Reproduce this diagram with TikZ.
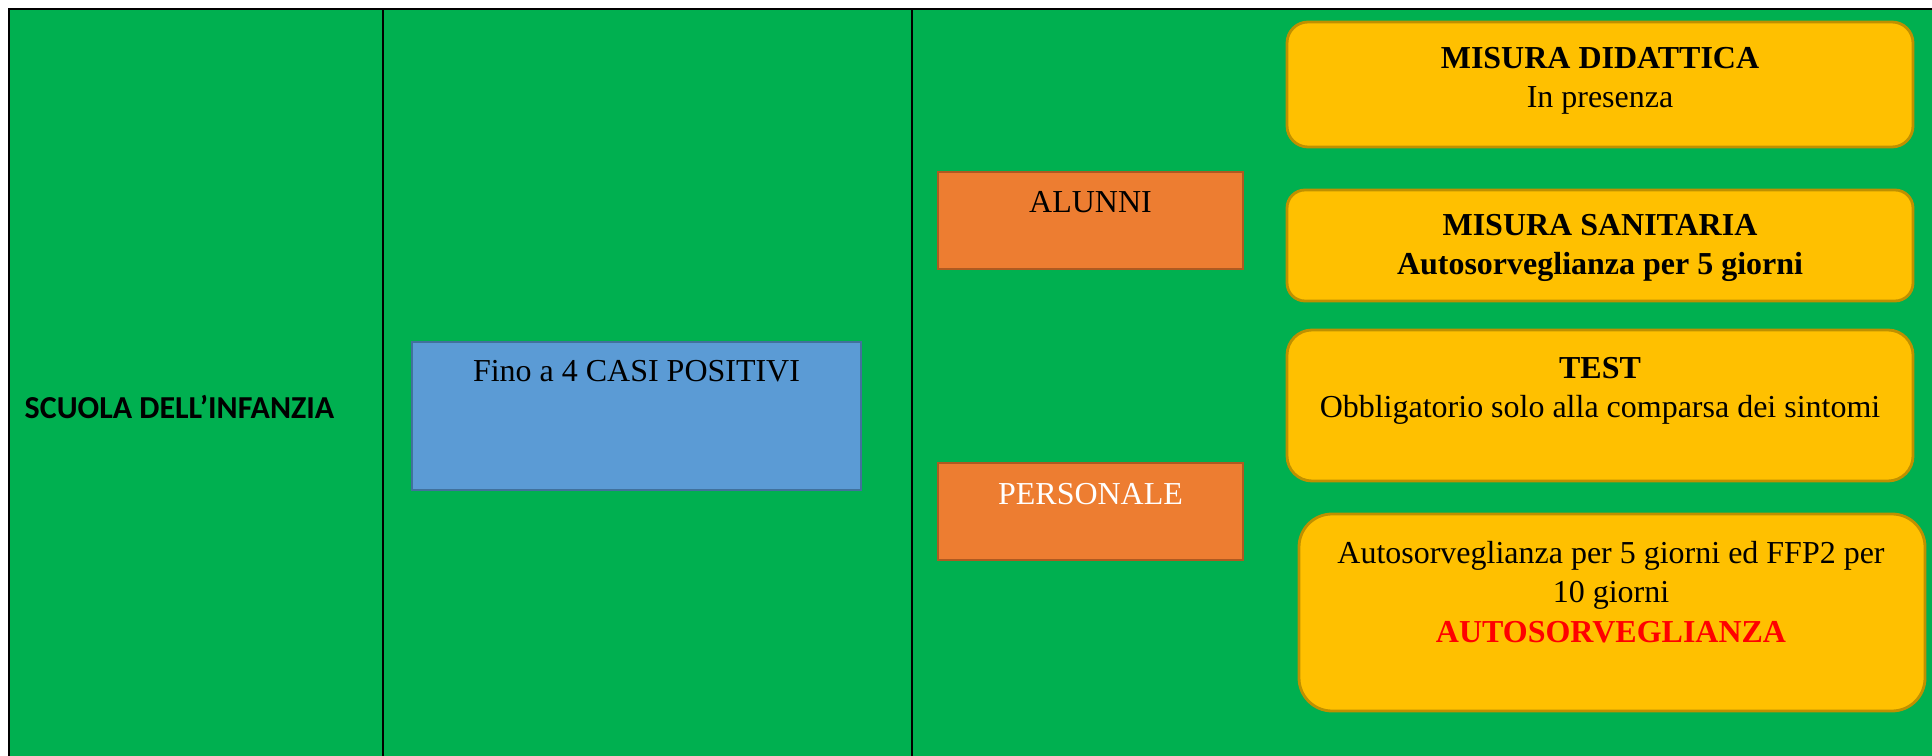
\documentclass[tikz,border=0pt]{standalone}
\usepackage{fontspec}
\setmainfont{Liberation Serif}
\newfontfamily\calibri{Carlito}
\definecolor{tabgreen}{HTML}{00B050}
\definecolor{casiblue}{HTML}{5B9BD5}
\definecolor{casiline}{HTML}{41719C}
\definecolor{chiorange}{HTML}{ED7D31}
\definecolor{chiline}{HTML}{AE5A21}
\definecolor{misyellow}{HTML}{FFC000}
\definecolor{misline}{HTML}{BF9000}
\tikzset{
  chibox/.style={draw=chiline,fill=chiorange,line width=0.6pt,minimum width=30.5mm,minimum height=9.7mm,inner sep=0pt},
  misbox/.style={draw=misline,fill=misyellow,line width=0.8pt,minimum width=62.6mm,inner sep=0pt},
  txt/.style={anchor=base,align=center,inner sep=0pt,font=\fontsize{9.1}{11.2}\selectfont}
}
\begin{document}
\begin{tikzpicture}[x=0.1mm,y=-0.1mm]
\useasboundingbox (0,0) rectangle (1932,756);
\fill[tabgreen] (9,9) rectangle (1932,756);
\draw[line width=0.7pt] (1932,9) -- (9,9) -- (9,756);
\draw[line width=0.5pt] (383,9) -- (383,756);
\draw[line width=0.5pt] (912,9) -- (912,756);
% prima colonna
\node[txt,anchor=base west,font=\calibri\bfseries\fontsize{9.1}{11.2}\selectfont] (scuola) at (24,419) {SCUOLA DELL’INFANZIA};
% seconda colonna
\node[draw=casiline,fill=casiblue,line width=0.6pt,minimum width=44.9mm,minimum height=14.8mm,inner sep=0pt] (casi) at (636.5,416) {};
\node[txt] (casit) at (636.5,382) {Fino a 4 CASI POSITIVI};
% terza colonna
\node[chibox] (alunni) at (1090.5,220.5) {};
\node[txt] (alunnit) at (1090.5,213) {ALUNNI};
\node[chibox] (personale) at (1090.5,511.5) {};
\node[txt,text=white] (personalet) at (1090.5,504) {PERSONALE};
% misure (base = ultima riga)
\node[misbox,minimum height=12.5mm,rounded corners=2.1mm] (didattica) at (1600,84.5) {};
\node[txt] (didatticat) at (1600,107.5) {\textbf{MISURA DIDATTICA}\\In presenza};
\node[misbox,minimum height=11.1mm,rounded corners=1.8mm] (sanitaria) at (1600,245.5) {};
\node[txt] (sanitariat) at (1600,274.5) {\textbf{MISURA SANITARIA}\\\textbf{Autosorveglianza per 5 giorni}};
\node[misbox,minimum height=15.1mm,rounded corners=2.5mm] (test) at (1600,405.5) {};
\node[txt] (testt) at (1600,417.5) {\textbf{TEST}\\Obbligatorio solo alla comparsa dei sintomi};
\node[misbox,minimum height=19.7mm,rounded corners=3.3mm] (ffp) at (1612,612.5) {};
\node[txt] (ffpt) at (1611,642) {Autosorveglianza per 5 giorni ed FFP2 per\\10 giorni\\\textcolor{red}{\textbf{AUTOSORVEGLIANZA}}};
\end{tikzpicture}
\end{document}
